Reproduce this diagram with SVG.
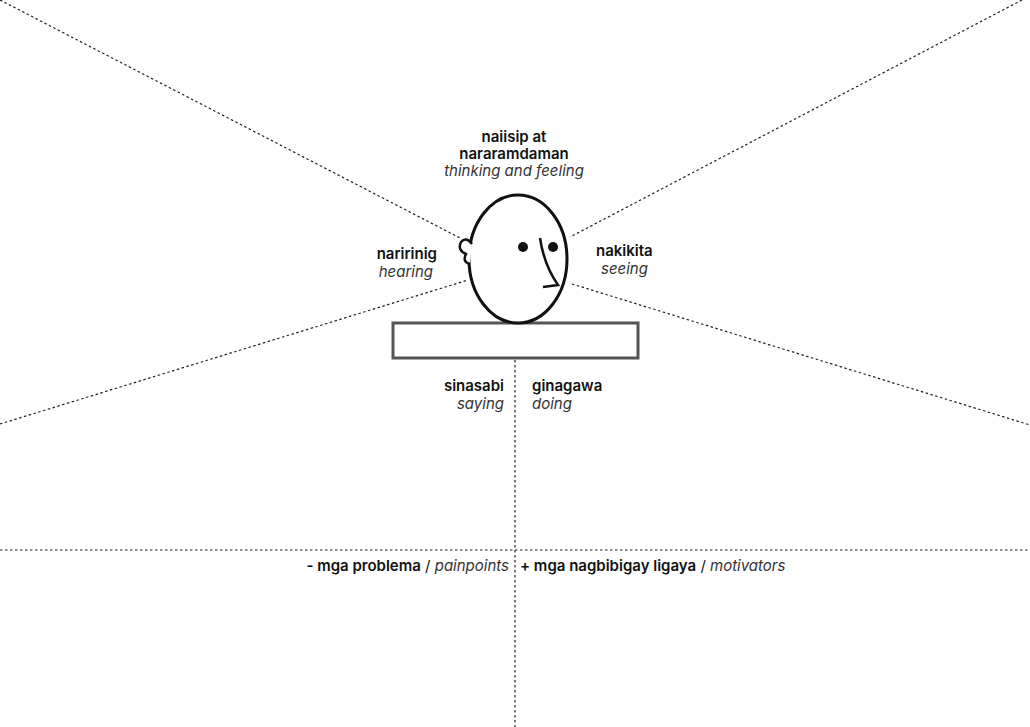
<svg xmlns="http://www.w3.org/2000/svg" width="1030" height="727" viewBox="0 0 1030 727">
<style>
.d{stroke:#222;stroke-width:1.2;stroke-dasharray:2.5 2.5;fill:none}
text{font-family:Inter,"Noto Sans",sans-serif;font-size:15px;fill:#111}
.b{font-weight:600}
.i{font-style:italic;fill:#333}
</style>
<rect width="1030" height="727" fill="#fff"/>
<g id="connectors">
<line class="d" x1="0" y1="0" x2="462" y2="239"/>
<line class="d" x1="1022" y1="0" x2="570" y2="237"/>
<line class="d" x1="0" y1="424" x2="468" y2="280"/>
<line class="d" x1="572" y1="284" x2="1030" y2="425"/>
<line class="d" x1="515" y1="360" x2="515" y2="727"/>
<line class="d" x1="0" y1="550" x2="1030" y2="550"/>
</g>
<g id="person">
<rect x="393" y="323" width="245" height="35" fill="#fff" stroke="#555" stroke-width="3"/>
<ellipse cx="518" cy="259" rx="49" ry="64" fill="#fff" stroke="#111" stroke-width="3"/>
<path d="M472 244 Q466 236 461 242 Q457 250 466 254 Q462 262 470 264" fill="#fff" stroke="#111" stroke-width="2.5"/>
<circle cx="523" cy="247" r="5" fill="#111"/>
<circle cx="553" cy="247" r="5" fill="#111"/>
<path d="M540 238 Q544 265 558 285 L543 287" fill="none" stroke="#111" stroke-width="2.5"/>
</g>
<g id="thinking"><text class="b" x="514" y="142" text-anchor="middle">naiisip at</text><text class="b" x="514" y="159" text-anchor="middle">nararamdaman</text><text class="i" x="514" y="176" text-anchor="middle">thinking and feeling</text></g>
<g id="hearing"><text class="b" x="437" y="259" text-anchor="end">naririnig</text><text class="i" x="433" y="277" text-anchor="end">hearing</text></g>
<g id="seeing"><text class="b" x="596" y="256">nakikita</text><text class="i" x="601" y="274">seeing</text></g>
<g id="saying"><text class="b" x="504" y="391" text-anchor="end">sinasabi</text><text class="i" x="504" y="409" text-anchor="end">saying</text></g>
<g id="doing"><text class="b" x="532" y="391">ginagawa</text><text class="i" x="532" y="409">doing</text></g>
<g id="pain"><text x="509" y="571" text-anchor="end"><tspan class="b">- mga problema</tspan> / <tspan class="i">painpoints</tspan></text></g>
<g id="motiv"><text x="520" y="571"><tspan class="b">+ mga nagbibigay ligaya</tspan> / <tspan class="i">motivators</tspan></text></g>
</svg>
